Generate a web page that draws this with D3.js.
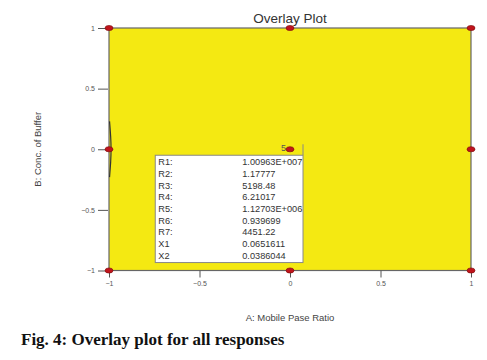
<!DOCTYPE html>
<html lang="en">
<head>
    <meta charset="UTF-8">
    <title>Overlay Plot</title>
    <script src="https://d3js.org/d3.v7.min.js"></script>
    <style>
        body {margin: 0; background: white;}
        svg text {font-family: "Liberation Sans", Arial, sans-serif;}
        .tick text {fill: #555; font-size: 7px;}
        .tick line {stroke: #555;}
        .domain {display: none;}
    </style>
</head>
<body>
<script>
    const width = 487;
    const height = 360;

    // design points (A, B)
    const pointsA = [-1, 0, 1, -1, 0, 1, -1, 0, 1];
    const pointsB = [1, 1, 1, 0, 0, 0, -1, -1, -1];
    const xTicks = [-1, -0.5, 0, 0.5, 1];
    const yTicks = [-1, -0.5, 0, 0.5, 1];

    // flag box at the centre point
    const flagLabels = ["R1:", "R2:", "R3:", "R4:", "R5:", "R6:", "R7:", "X1", "X2"];
    const flagValues = ["1.00963E+007", "1.17777", "5198.48", "6.21017", "1.12703E+006",
        "0.939699", "4451.22", "0.0651611", "0.0386044"];

    // little contour on the left edge
    const contourA = [-0.997, -0.99, -0.988, -0.99, -0.997];
    const contourB = [0.23, 0.1, 0, -0.1, -0.23];

    const margin = {left: 109, right: 16, top: 28, bottom: 89.5};

    const x = d3.scaleLinear().domain([-1, 1]).range([margin.left, width - margin.right]);
    const y = d3.scaleLinear().domain([-1, 1]).range([height - margin.bottom, margin.top]);

    const svg = d3.select("body").append("svg")
            .attr("width", width).attr("height", height);

    // yellow region
    svg.append("rect")
            .attr("x", x(-1)).attr("y", y(1))
            .attr("width", x(1) - x(-1)).attr("height", y(-1) - y(1))
            .style("fill", "#f4e912")
            .style("stroke", "#666").style("stroke-width", 1.2);

    svg.append("g")
            .attr("transform", `translate(${x(-1) - 1},0)`)
            .call(d3.axisLeft(y).tickValues(yTicks).tickSize(10).tickPadding(3)
                    .tickFormat(d3.format("")));

    svg.append("g")
            .attr("transform", `translate(0,${y(-1)})`)
            .call(d3.axisBottom(x).tickValues(xTicks).tickSize(7).tickPadding(4)
                    .tickFormat(d3.format("")));

    // contour
    const line = d3.line().curve(d3.curveBasis)
            .x((d, i) => x(contourA[i])).y((d, i) => y(contourB[i]));
    svg.append("path")
            .datum(contourA)
            .attr("d", line)
            .style("fill", "none").style("stroke", "#333").style("stroke-width", 1.2);

    // flag box
    const boxX = x(-0.75) + 1, boxY = y(0) + 6;
    const boxW = x(0) + 13 - boxX, rowH = 11.7;
    const boxH = rowH * flagLabels.length + 2;
    svg.append("rect")
            .attr("x", boxX).attr("y", boxY)
            .attr("width", boxW).attr("height", boxH)
            .style("fill", "white").style("stroke", "#888");
    svg.append("line")
            .attr("x1", boxX + boxW).attr("x2", boxX + boxW)
            .attr("y1", y(0) - 5).attr("y2", boxY)
            .style("stroke", "#888");

    const rows = svg.append("g").selectAll("g")
            .data(flagLabels).enter().append("g")
            .attr("transform", (d, i) => `translate(0,${boxY + 10 + i * rowH})`)
            .style("font-size", "9.2px").style("fill", "#333");
    rows.append("text").attr("x", boxX + 3).text(d => d);
    rows.append("text").attr("x", boxX + 87).text((d, i) => flagValues[i]);

    svg.append("text")
            .attr("x", x(0) - 4).attr("y", y(0) + 2)
            .attr("text-anchor", "end")
            .style("font-size", "9px").style("fill", "#555")
            .text("5");

    // design points
    svg.append("g").selectAll("ellipse")
            .data(pointsA).enter().append("ellipse")
            .attr("cx", d => x(d))
            .attr("cy", (d, i) => y(pointsB[i]))
            .attr("rx", 4).attr("ry", 2.6)
            .style("fill", "#c0141c").style("stroke", "#7a0a0a").style("stroke-width", 0.6);

    // titles
    svg.append("text")
            .attr("x", x(0)).attr("y", 23)
            .attr("text-anchor", "middle")
            .style("font-size", "13.5px").style("fill", "#333")
            .text("Overlay Plot");

    svg.append("text")
            .attr("x", x(0)).attr("y", 320.5)
            .attr("text-anchor", "middle")
            .style("font-size", "9.5px").style("fill", "#444")
            .text("A: Mobile Pase Ratio");

    svg.append("text")
            .attr("transform", `translate(41,${y(0)}) rotate(-90)`)
            .attr("text-anchor", "middle")
            .style("font-size", "9.5px").style("fill", "#444")
            .text("B: Conc. of Buffer");

    svg.append("text")
            .attr("x", 21).attr("y", 345)
            .style("font-family", "'Liberation Serif', 'Times New Roman', serif")
            .style("font-weight", "bold").style("font-size", "17px").style("fill", "#111")
            .text("Fig. 4: Overlay plot for all responses");
</script>
</body>
</html>
